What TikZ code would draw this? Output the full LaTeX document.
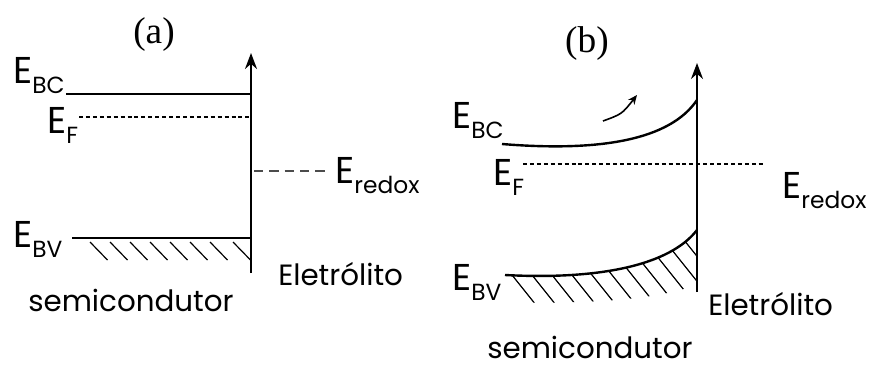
\documentclass[tikz,border=0pt]{standalone}
\usepackage{fontspec}
\setmainfont{Poppins}
\newfontfamily\titlefont{Liberation Serif}
\usetikzlibrary{arrows.meta}
\newcommand{\lvl}[1]{{\fontsize{28}{28}\selectfont E}\raisebox{-7.5pt}{\fontsize{17.5}{17.5}\selectfont #1}}

\begin{document}
\begin{tikzpicture}[
    x=0.75pt, y=-0.75pt,
    band/.style={line width=1.8pt},
    axis/.style={line width=1.6pt, -{Stealth[length=12pt, width=9pt]}},
    fermi/.style={line width=0.8pt, dash pattern=on 3pt off 2.2pt},
    redoxline/.style={line width=1.3pt, gray!60!black, dash pattern=on 7pt off 4.5pt},
    hatch/.style={line width=0.9pt},
    lbl/.style={anchor=base west, inner sep=0pt},
    txt/.style={anchor=base west, inner sep=0pt, text depth=0pt, font=\fontsize{22}{22}\selectfont},
    ttl/.style={font=\titlefont\fontsize{28}{28}\selectfont, inner sep=0pt}
]
\useasboundingbox (0,0) rectangle (873,365);

% (a) flat bands
\node[ttl] (ta) at (154,35) {(a)};
\coordinate (aBot) at (251,273);
\coordinate (aTop) at (251,53);
\coordinate (aBC) at (66,94);
\coordinate (aF) at (79,117);
\coordinate (aRx) at (254,171);
\coordinate (aRxEnd) at (330,171);
\coordinate (aBV) at (72,238);
\draw[axis] (aBot) -- (aTop);
\draw[band] (aBC) -- (aBC -| aTop);
\draw[fermi] (aF) -- (aF -| aTop);
\draw[redoxline] (aRx) -- (aRxEnd);
\draw[band] (aBV) -- (aBV -| aTop);
\foreach \x in {90,110,130,150,170,190,210,233}
    \draw[hatch] (\x,242) -- ++(17.5,18);
\node[lbl] (aLBC) at (13,83) {\lvl{BC}};
\node[lbl] (aLF) at (47,133) {\lvl{F}};
\node[lbl] (aLRx) at (335,183) {\lvl{redox}};
\node[lbl] (aLBV) at (13,247) {\lvl{BV}};
\node[txt] (aEl) at (278,285) {Eletrólito};
\node[txt] (aSc) at (28,311) {semicondutor};

% (b) bent bands
\node[ttl] (tb) at (587,44) {(b)};
\coordinate (bBot) at (697,292);
\coordinate (bTop) at (697,63);
\coordinate (bBC) at (502,144);
\coordinate (bBCs) at (697,100);
\coordinate (bF) at (523,164);
\coordinate (bFEnd) at (765,164);
\coordinate (bBV) at (505,275);
\coordinate (bBVs) at (697,230);
\coordinate (eFrom) at (603,121);
\coordinate (eTo) at (637,95);
\begin{scope}
    \clip (bBV) .. controls (600,280) and (670,265) .. (bBVs) -- (697,284)
        .. controls (670,297) and (600,305) .. (505,302) -- cycle;
    \foreach \s in {512,532,...,712}
        \draw[hatch] (\s-60,200) -- (\s+36,320);
\end{scope}
\draw[axis] (bBot) -- (bTop);
\draw[band] (bBC) .. controls (600,152) and (670,140) .. (bBCs);
\draw[band] (bBV) .. controls (600,280) and (670,265) .. (bBVs);
\draw[fermi] (bF) -- (bFEnd);
\draw[line width=1.2pt, -{Stealth[length=7pt, width=6pt]}] (eFrom) .. controls (622,114) .. (eTo);
\node[lbl] (bLBC) at (452,128) {\lvl{BC}};
\node[lbl] (bLF) at (493,185) {\lvl{F}};
\node[lbl] (bLRx) at (782,198) {\lvl{redox}};
\node[lbl] (bLBV) at (452,290) {\lvl{BV}};
\node[txt] (bEl) at (708,315) {Eletrólito};
\node[txt] (bSc) at (487,358) {semicondutor};
\end{tikzpicture}
\end{document}
